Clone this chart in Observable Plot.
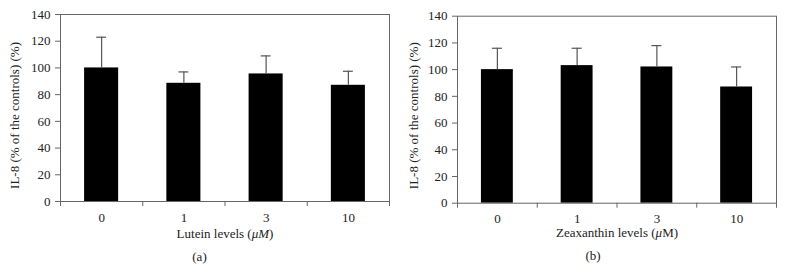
<!DOCTYPE html>
<html><head><meta charset="utf-8">
<script src="https://cdn.jsdelivr.net/npm/d3@7"></script>
<script src="https://cdn.jsdelivr.net/npm/@observablehq/plot@0.6"></script>
<style>body{margin:0;background:#fff;} #wrap{display:flex;width:785px;height:275px;}</style>
</head><body><div id="wrap"></div>
<script>
const levels = ["0", "1", "3", "10"];
const luteinMeans = [100, 88.5, 95.5, 87];
const luteinSD = [23, 8.5, 13.5, 10.5];
const zeaMeans = [100, 103, 102, 87];
const zeaSD = [16, 13, 16, 15];
const yTicks = [0, 20, 40, 60, 80, 100, 120, 140];
const yLabel = "IL-8 (% of the controls) (%)";

function panel(o) {
  const data = levels.map((l, i) => ({label: l, i, mean: o.means[i], top: o.means[i] + o.sd[i]}));
  const c = d => d.i + 0.5;
  const fs = 13;
  const p = Plot.plot({
    width: o.width, height: 275,
    marginLeft: o.ml, marginRight: o.mr, marginTop: o.mt, marginBottom: o.mb,
    style: {fontFamily: '"Liberation Serif", serif', fontSize: "13px", color: "#222", background: "#fff", overflow: "visible"},
    x: {domain: [0, levels.length], axis: null},
    y: {domain: [0, 140], axis: null},
    marks: [
      Plot.rect(data, {x1: d => c(d) - o.half, x2: d => c(d) + o.half, y1: 0, y2: "mean", fill: "#000"}),
      Plot.ruleX(data, {x: c, y1: "mean", y2: "top", stroke: "#555", strokeWidth: 1.2}),
      Plot.ruleY(data, {y: "top", x1: d => c(d) - o.cap, x2: d => c(d) + o.cap, stroke: "#555", strokeWidth: 1.2}),
      Plot.frame({stroke: "#666"}),
      Plot.axisY({ticks: yTicks, tickSize: 5, tickPadding: 5, stroke: "#666", fontSize: fs, label: null}),
      Plot.axisX({ticks: d3.range(levels.length + 1), tickSize: 5, tickFormat: () => "", stroke: "#666", label: null}),
      Plot.axisX({ticks: data.map(c), tickSize: 0, tickPadding: 11, fontSize: fs, tickFormat: t => levels[Math.floor(t)], label: null}),
      Plot.text([o.xLabel], {frameAnchor: "bottom", dy: o.xDy, fontSize: fs, text: d => d, className: "xlab"}),
      Plot.text([yLabel], {frameAnchor: "left", rotate: -90, textAnchor: "middle", fontSize: fs, dx: o.yDx, dy: o.yDy, text: d => d}),
      Plot.text([o.caption], {frameAnchor: "bottom", dy: o.capDy, dx: o.capDx, fontSize: fs, text: d => d})
    ]
  });
  const t = p.querySelector("g.xlab text");
  if (t) {
    t.textContent = "";
    o.parts.forEach(([s, it]) => {
      const ts = document.createElementNS("http://www.w3.org/2000/svg", "tspan");
      ts.textContent = s;
      if (it) ts.setAttribute("font-style", "italic");
      t.appendChild(ts);
    });
  }
  return p;
}

const wrap = document.getElementById("wrap");
wrap.appendChild(panel({
  means: luteinMeans, sd: luteinSD, width: 392, ml: 60, mr: 3, mt: 14, mb: 74,
  half: 0.207, cap: 0.06, xLabel: "Lutein levels (μM)",
  parts: [["Lutein levels (", false], ["μM", true], [")", false]],
  xDy: 36, yDx: -46, yDy: 7.5, caption: "(a)", capDy: 59, capDx: -25.5
}));
wrap.appendChild(panel({
  means: zeaMeans, sd: zeaSD, width: 393, ml: 65, mr: 9, mt: 15.7, mb: 72.3,
  half: 0.2, cap: 0.063, xLabel: "Zeaxanthin levels (μM)",
  parts: [["Zeaxanthin levels (", false], ["μ", true], ["M)", false]],
  xDy: 34, yDx: -43.5, yDy: 6, caption: "(b)", capDy: 57, capDx: -24
}));
</script></body></html>
